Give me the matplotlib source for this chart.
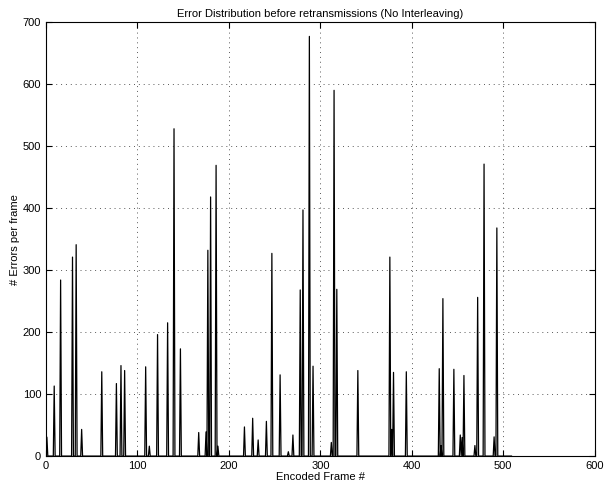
import numpy as np
import matplotlib
matplotlib.use("Agg")
import matplotlib.pyplot as plt

plt.rcParams['font.family'] = ['Liberation Sans', 'DejaVu Sans']

# frames that had errors before retransmission, and how many errors each
spike_frames = [0, 1, 9, 16, 29, 33, 39, 61, 77, 82, 86, 109, 113, 122, 133,
                140, 147, 167, 175, 177, 180, 186, 188, 217, 226, 232, 241, 247,
                256, 265, 270, 278, 281, 288, 292, 312, 315, 318, 341, 376, 378,
                380, 394, 430, 432, 434, 446, 453, 455, 457, 469, 472, 479, 490, 493]
spike_errors = [33, 30, 113, 284, 321, 341, 43, 136, 117, 146, 138, 144, 16, 196, 215,
                528, 173, 38, 39, 332, 418, 469, 16, 47, 61, 26, 56, 327,
                131, 7, 34, 268, 397, 677, 145, 22, 590, 269, 138, 321, 43,
                135, 136, 141, 17, 254, 140, 34, 30, 130, 17, 256, 471, 31, 368]
n_frames = 510

frames = np.arange(n_frames)
errors = np.zeros(n_frames)
errors[spike_frames] = spike_errors

fig = plt.figure(figsize=(6.05, 4.92), dpi=100)
ax = fig.add_axes([0.076, 0.073, 0.907, 0.882])

ax.plot(frames, errors, color='black', linewidth=0.9)

ax.set_xlim(0, 600)
ax.set_ylim(0, 700)
ax.set_xticks(range(0, 601, 100))
ax.set_yticks(range(0, 701, 100))
ax.grid(True, linestyle=(0, (1, 4)), color='0.35', linewidth=0.7)
ax.tick_params(direction='in', top=True, right=True, labelsize=8, length=4)
for s in ax.spines.values():
    s.set_linewidth(0.8)

ax.set_title('Error Distribution before retransmissions (No Interleaving)', fontsize=8, pad=4)
ax.set_xlabel('Encoded Frame #', fontsize=8, labelpad=1)
ax.set_ylabel('# Errors per frame', fontsize=8, labelpad=2)

fig.savefig('out.png', dpi=100)
